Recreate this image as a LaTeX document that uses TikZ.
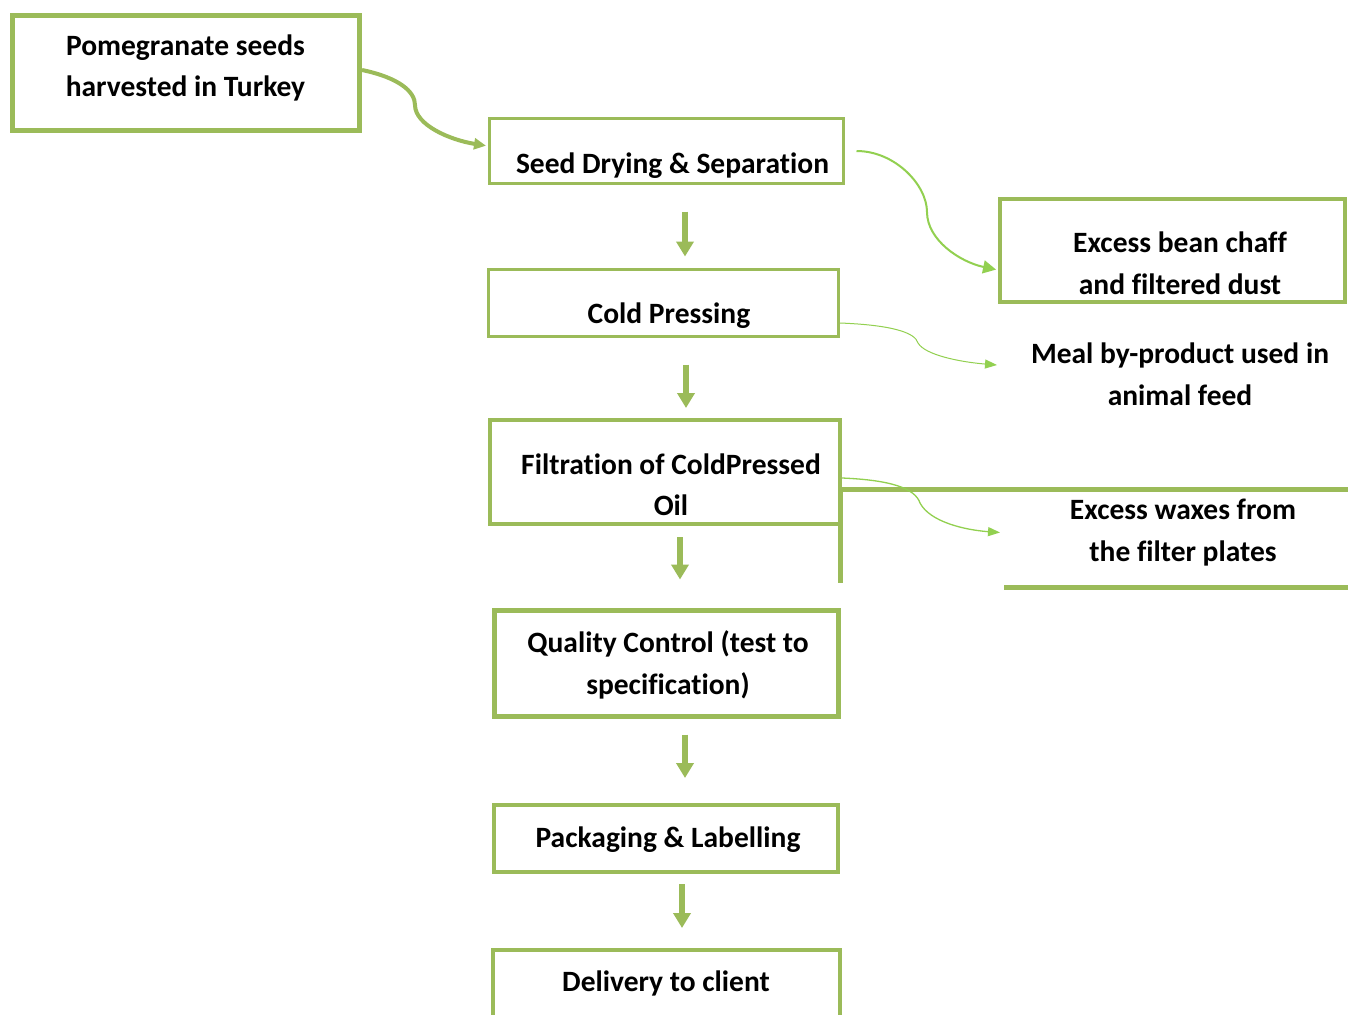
\documentclass[tikz,border=0pt]{standalone}
\usepackage{fontspec}
\setmainfont{Carlito}[Ligatures={NoCommon,NoRare,NoContextual}]
\usetikzlibrary{arrows.meta}
\definecolor{olive}{HTML}{9BBB59}
\definecolor{lgreen}{HTML}{92D050}
\begin{document}
\begin{tikzpicture}[x=1pt,y=-1pt,
  box/.style={draw=olive,inner sep=0pt},
  txt/.style={font=\bfseries\fontsize{29.5}{41.5}\selectfont,align=center,inner sep=0pt},
  mainarrow/.style={draw=olive,line width=5.5pt,-{Triangle[length=15pt,width=17pt]}},
  thinarrow/.style={draw=lgreen,-{Triangle[length=12pt,width=9pt]}}]
\clip (0,0) rectangle (1348,1014);
\fill[white] (0,0) rectangle (1348,1014);
% boxes
\node[box,line width=5pt,minimum width=347pt,minimum height=115pt] (b1) at (186,73) {};
\node[txt] (t1) at (185.5,68) {Pomegranate seeds\\harvested in Turkey};
\node[box,line width=3pt,minimum width=354pt,minimum height=65pt] (b2) at (666.5,151) {};
\node[txt,anchor=base] (t2) at (672.5,173.2) {Seed Drying \& Separation};
\node[box,line width=3pt,minimum width=350pt,minimum height=67pt] (b3) at (663.5,303) {};
\node[txt,anchor=base] (t3) at (669,323.5) {Cold Pressing};
\node[box,line width=4pt,minimum width=350pt,minimum height=104pt] (b4) at (665,472) {};
\node[txt] (t4) at (671,484.5) {Filtration of ColdPressed\\Oil};
\node[box,line width=5pt,minimum width=344pt,minimum height=106pt] (b5) at (666.5,663.5) {};
\node[txt] (t5) at (668,665) {Quality Control (test to\\specification)};
\node[box,line width=4pt,minimum width=344pt,minimum height=67pt] (b6) at (666,838.5) {};
\node[txt,anchor=base] (t6) at (668,847.8) {Packaging \& Labelling};
\node[box,line width=4pt,minimum width=347pt,minimum height=110pt] (b7) at (666.5,1005) {};
\node[txt,anchor=base] (t7) at (666,991.8) {Delivery to client};
\node[box,line width=4pt,minimum width=345pt,minimum height=103pt] (b8) at (1172.5,250.5) {};
\node[txt] (t8) at (1180,263.5) {Excess bean chaff\\and filtered dust};
\node[txt] (t9) at (1180,374.3) {Meal by-product used in\\animal feed};
\node[txt] (t10) at (1183,532.8) {Excess waxes from\\the filter plates};
% partial frame around waxes
\draw[olive,line width=5pt] (1348,489) -- (840,489) -- (840,583);
\draw[olive,line width=5pt] (1004,587) -- (1348,587);
% free ends
\coordinate (m1) at (997,365);
\coordinate (w1) at (1000,532.5);
% main arrows
\draw[mainarrow,shorten <=26.5pt,shorten >=11.5pt] ([xshift=18.5pt]b2.south) -- ([xshift=21.5pt]b3.north);
\draw[mainarrow,shorten <=26.5pt,shorten >=10pt] ([xshift=22.5pt]b3.south) -- ([xshift=21pt]b4.north);
\draw[mainarrow,shorten <=11pt,shorten >=28.5pt] ([xshift=15pt]b4.south) -- ([xshift=13.5pt]b5.north);
\draw[mainarrow,shorten <=15.5pt,shorten >=25pt] ([xshift=18.5pt]b5.south) -- ([xshift=19pt]b6.north);
\draw[mainarrow,shorten <=10pt,shorten >=20pt] ([xshift=16pt]b6.south) -- ([xshift=15.5pt]b7.north);
% curved connectors
\draw[olive,line width=4pt,-{Triangle[length=12pt,width=11pt]},shorten >=2pt] ([yshift=3pt]b1.east) .. controls (400,78) and (415,92) .. (415,105) .. controls (415,125) and (450,140) .. ([yshift=5pt]b2.west);
\draw[thinarrow,line width=2pt,-{Triangle[length=13pt,width=13pt]},shorten <=11.5pt,shorten >=2pt] (b2.east) .. controls (895,151) and (927,185) .. (927,212) .. controls (927,240) and (960,262) .. ([yshift=-19.5pt]b8.west);
\draw[thinarrow,line width=1pt] ([yshift=-20pt]b3.east) .. controls (890,325) and (915,332) .. (918,343) .. controls (925,355) and (960,362) .. (m1);
\draw[thinarrow,line width=1.3pt] ([yshift=-6pt]b4.east) .. controls (890,480) and (915,488) .. (920,503) .. controls (930,522) and (965,530) .. (w1);
\end{tikzpicture}
\end{document}
